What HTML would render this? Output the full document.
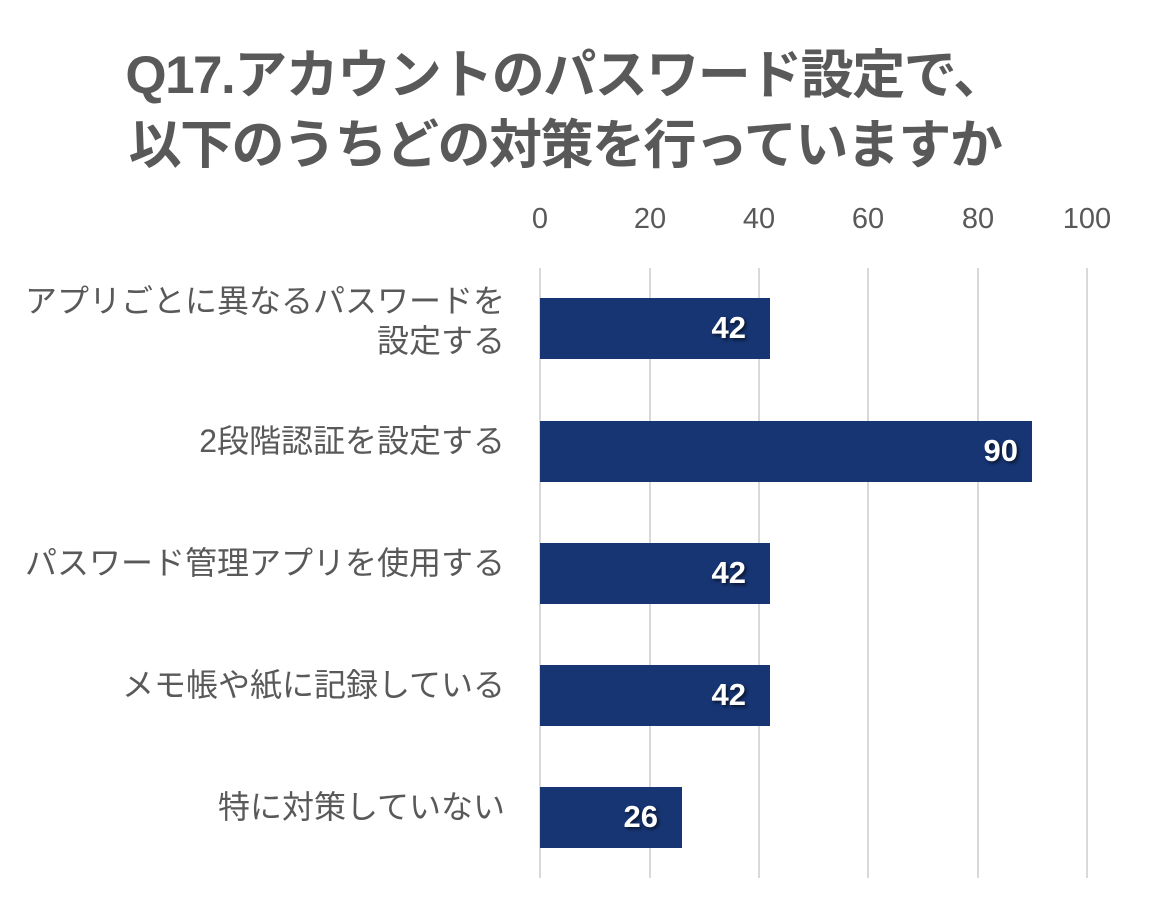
<!DOCTYPE html>
<html><head><meta charset="utf-8"><style>
body{margin:0;width:1150px;height:906px;background:#fff;overflow:hidden;font-family:"Liberation Sans","Noto Sans CJK JP",sans-serif;}
.t{position:absolute;left:0;width:1130px;text-align:center;font-weight:bold;font-size:53px;color:#595959;letter-spacing:-1.5px;}
.g{position:absolute;top:268px;height:610px;width:2px;background:#d9d9d9;}
.tk{position:absolute;top:203px;width:80px;text-align:center;font-size:29px;color:#595959;}
.bar{position:absolute;left:540px;height:61px;background:#173573;}
.v{position:absolute;right:24px;top:12px;color:#fff;font-weight:bold;font-size:31px;text-shadow:2px 2px 3px rgba(0,0,0,.6);}
.c{position:absolute;right:645px;text-align:right;font-size:32px;color:#595959;line-height:40px;white-space:nowrap;}
</style></head><body>
<div class="t" style="top:33px">Q17.アカウントのパスワード設定で、</div>
<div class="t" style="top:103px">以下のうちどの対策を行っていますか</div>
<div class="g" style="left:539px"></div><div class="g" style="left:649px"></div><div class="g" style="left:758px"></div><div class="g" style="left:867px"></div><div class="g" style="left:977px"></div><div class="g" style="left:1086px"></div>
<div class="tk" style="left:500px">0</div><div class="tk" style="left:610px">20</div><div class="tk" style="left:719px">40</div><div class="tk" style="left:828px">60</div><div class="tk" style="left:938px">80</div><div class="tk" style="left:1047px">100</div>
<div class="bar" style="top:298px;width:230px"><span class="v">42</span></div>
<div class="bar" style="top:421px;width:492px"><span class="v" style="right:14px">90</span></div>
<div class="bar" style="top:543px;width:230px"><span class="v">42</span></div>
<div class="bar" style="top:665px;width:230px"><span class="v">42</span></div>
<div class="bar" style="top:787px;width:142px"><span class="v">26</span></div>
<div class="c" style="top:281px">アプリごとに異なるパスワードを<br>設定する</div>
<div class="c" style="top:421px">2段階認証を設定する</div>
<div class="c" style="top:543px">パスワード管理アプリを使用する</div>
<div class="c" style="top:665px">メモ帳や紙に記録している</div>
<div class="c" style="top:787px">特に対策していない</div>
</body></html>
